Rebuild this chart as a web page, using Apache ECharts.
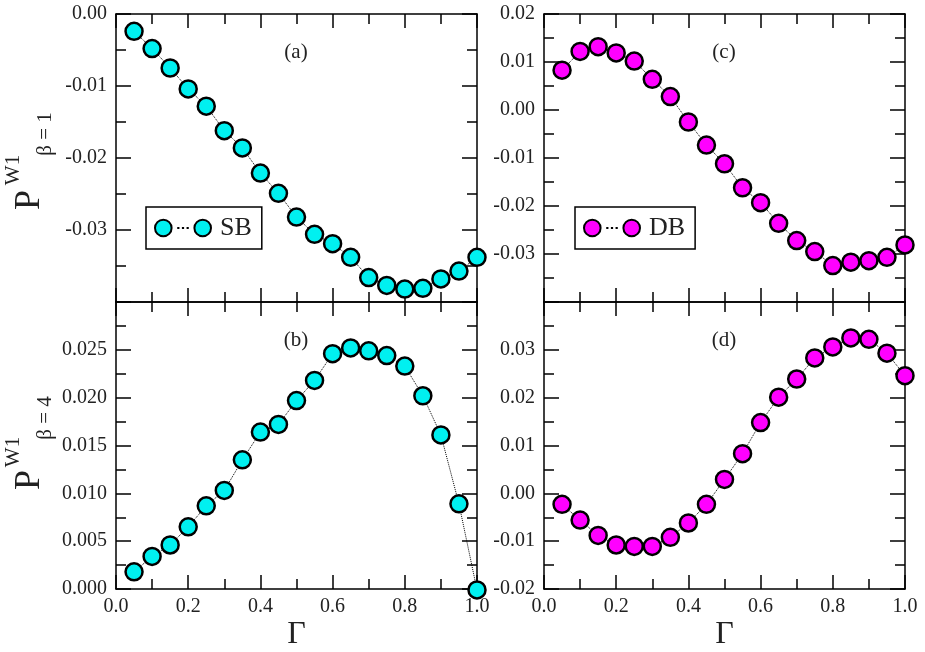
<!DOCTYPE html>
<html>
<head>
<meta charset="utf-8">
<script src="https://cdn.jsdelivr.net/npm/echarts@6/dist/echarts.min.js"></script>
<style>
    html, body { margin: 0; padding: 0; background: #fff; }
    #chart { width: 925px; height: 652px; }
</style>
</head>
<body>
<div id="chart"></div>
<script>
// Gamma grid shared by all four panels
const gammaValues = [0.05, 0.10, 0.15, 0.20, 0.25, 0.30, 0.35, 0.40, 0.45, 0.50,
                     0.55, 0.60, 0.65, 0.70, 0.75, 0.80, 0.85, 0.90, 0.95, 1.00];

// (a) SB, beta = 1
const sbBeta1 = [-0.0024, -0.0048, -0.0075, -0.0104, -0.0128, -0.0162, -0.0186, -0.0221, -0.0249, -0.0282,
                 -0.0306, -0.0319, -0.0338, -0.0366, -0.0377, -0.0382, -0.0381, -0.0368, -0.0357, -0.0338];
// (b) SB, beta = 4
const sbBeta4 = [0.0018, 0.0034, 0.0046, 0.0065, 0.0087, 0.0103, 0.0135, 0.0164, 0.0172, 0.0197,
                 0.0218, 0.0246, 0.0252, 0.0249, 0.0244, 0.0233, 0.0202, 0.0161, 0.0089, -0.0001];
// (c) DB, beta = 1
const dbBeta1 = [0.0083, 0.0122, 0.0132, 0.0119, 0.0102, 0.0064, 0.0028, -0.0025, -0.0073, -0.0112,
                 -0.0162, -0.0193, -0.0236, -0.0272, -0.0295, -0.0324, -0.0317, -0.0314, -0.0307, -0.0281];
// (d) DB, beta = 4
const dbBeta4 = [-0.0023, -0.0056, -0.0088, -0.0108, -0.0111, -0.0111, -0.0092, -0.0062, -0.0023, 0.0029,
                 0.0083, 0.0148, 0.0201, 0.0239, 0.0283, 0.0306, 0.0325, 0.0322, 0.0293, 0.0246];

const SERIF = '"Liberation Serif", "DejaVu Serif", serif';
const CYAN = '#00f0f0';
const MAGENTA = '#ff00ff';

// panel geometry: a, b, c, d
const panels = [
    { label: '(a)', left: 116, top: 14, height: 288, min: -0.04, max: 0.00, interval: 0.01, digits: 2, hideMin: true, hideMax: false, bottom: false, name: 'SB', color: CYAN, data: sbBeta1 },
    { label: '(b)', left: 116, top: 302, height: 287, min: 0.0, max: 0.03, interval: 0.005, digits: 3, hideMin: false, hideMax: true, bottom: true, name: 'SB', color: CYAN, data: sbBeta4 },
    { label: '(c)', left: 544, top: 14, height: 288, min: -0.04, max: 0.02, interval: 0.01, digits: 2, hideMin: true, hideMax: false, bottom: false, name: 'DB', color: MAGENTA, data: dbBeta1 },
    { label: '(d)', left: 544, top: 302, height: 287, min: -0.02, max: 0.04, interval: 0.01, digits: 2, hideMin: false, hideMax: true, bottom: true, name: 'DB', color: MAGENTA, data: dbBeta4 },
];
const PANEL_W = 361;

const axisLine = { show: true, onZero: false, lineStyle: { color: '#000', width: 1.5 } };
const labelStyle = { fontFamily: SERIF, fontSize: 20, color: '#222' };

function makeX(p, i, position) {
    const withLabels = position === 'bottom' && p.bottom;
    return {
        type: 'value', gridIndex: i, position,
        min: 0, max: 1, interval: 0.2,
        axisLine,
        axisTick: { show: true, inside: true, length: 14, lineStyle: { color: '#000', width: 1.5 } },
        minorTick: { show: true, splitNumber: 2, length: 10, lineStyle: { color: '#000', width: 1.5 } },
        splitLine: { show: false },
        axisLabel: withLabels
            ? { ...labelStyle, margin: 8, formatter: v => v.toFixed(1) }
            : { show: false },
        name: withLabels ? 'Γ' : '',
        nameLocation: 'middle',
        nameGap: 30,
        nameTextStyle: { fontFamily: SERIF, fontSize: 32, color: '#222', verticalAlign: 'top' },
    };
}

function makeY(p, i, position) {
    return {
        type: 'value', gridIndex: i, position,
        min: p.min, max: p.max, interval: p.interval,
        axisLine,
        axisTick: { show: true, inside: true, length: 15, lineStyle: { color: '#000', width: 1.5 } },
        minorTick: { show: true, splitNumber: 2, length: 10, lineStyle: { color: '#000', width: 1.5 } },
        splitLine: { show: false },
        axisLabel: position === 'left'
            ? {
                ...labelStyle, margin: 9,
                showMinLabel: !p.hideMin, showMaxLabel: !p.hideMax,
                formatter: v => (Math.abs(v) < 1e-9 ? 0 : v).toFixed(p.digits),
            }
            : { show: false },
    };
}

const grid = panels.map(p => ({
    left: p.left, top: p.top, width: PANEL_W, height: p.height,
    show: false,
}));

const xAxis = [];
const yAxis = [];
panels.forEach((p, i) => {
    xAxis.push(makeX(p, i, 'bottom'), makeX(p, i, 'top'));
    yAxis.push(makeY(p, i, 'left'), makeY(p, i, 'right'));
});

const series = panels.map((p, i) => ({
    name: p.name,
    type: 'line',
    xAxisIndex: 2 * i,
    yAxisIndex: 2 * i,
    data: gammaValues.map((g, k) => [g, p.data[k]]),
    clip: false,
    symbol: 'circle',
    symbolSize: 17,
    itemStyle: { color: p.color, borderColor: '#000', borderWidth: 2.5 },
    lineStyle: { color: '#000', width: 1, type: 'dotted' },
    z: 3,
}));

// two circles joined by a few dots
const legendIcon = 'path://M1,9a8,8 0 1,0 16,0a8,8 0 1,0 -16,0Z'
    + 'M39,9a8,8 0 1,0 16,0a8,8 0 1,0 -16,0Z'
    + 'M23.4,8.9h0.2v0.2h-0.2Z M27.9,8.9h0.2v0.2h-0.2Z M32.4,8.9h0.2v0.2h-0.2Z';

function makeLegend(name, left) {
    return {
        data: [name],
        left, top: 207,
        orient: 'horizontal',
        padding: [8, 10, 8, 8],
        itemWidth: 56, itemHeight: 18,
        itemGap: 0,
        icon: legendIcon,
        borderColor: '#000', borderWidth: 1.5,
        backgroundColor: '#fff',
        selectedMode: false,
        textStyle: { fontFamily: SERIF, fontSize: 26, color: '#222', padding: [0, 0, 0, 4] },
        itemStyle: { borderColor: '#000', borderWidth: 2 },
    };
}

function vText(text, x, y, size) {
    return {
        type: 'text', x, y, rotation: Math.PI / 2,
        style: { text, fontFamily: SERIF, fontSize: size, fill: '#222', align: 'center', verticalAlign: 'middle' },
    };
}

const graphic = [];
panels.forEach(p => {
    graphic.push({
        type: 'text', x: p.left + 180, y: p.top + 38,
        style: { text: p.label, fontFamily: SERIF, fontSize: 21, fill: '#222', align: 'center', verticalAlign: 'middle' },
    });
});
// y titles P^{W1}_{beta}
[['β = 1', 200, 170, 134], ['β = 4', 480, 452, 418]].forEach(([beta, yP, yW, yB]) => {
    graphic.push(vText('P', 30, yP, 36));
    graphic.push(vText('W1', 13, yW, 21));
    graphic.push(vText(beta, 45, yB, 21));
});

const chart = echarts.init(document.getElementById('chart'), null, { renderer: 'canvas' });
chart.setOption({
    animation: false,
    backgroundColor: '#fff',
    grid, xAxis, yAxis, series,
    legend: [makeLegend('SB', 146), makeLegend('DB', 575)],
    graphic,
});
</script>
</body>
</html>
